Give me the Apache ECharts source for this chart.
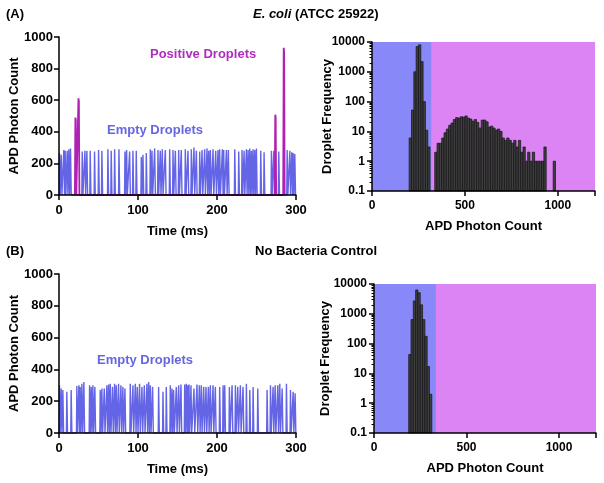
<!DOCTYPE html>
<html><head><meta charset="utf-8">
<script src="https://cdn.jsdelivr.net/npm/echarts@6/dist/echarts.min.js"></script>
<style>html,body{margin:0;padding:0;background:#fff}#c{width:604px;height:483px}</style>
</head><body><div id="c"></div>
<script>
// ---- Panel A time trace ----
const emptyTimesA = [0.8,3.0,6.3,8.0,10.6,12.7,14.8,29.6,33.0,35.5,39.7,45.2,50.3,54.5,62.1,66.3,70.6,76.1,83.7,85.8,89.6,93.8,98.0,104.4,106.5,110.7,115.8,117.9,121.3,125.5,128.4,131.0,134.8,140.3,144.5,147.5,151.7,155.0,160.1,163.5,167.7,171.1,174.1,178.3,181.3,184.6,187.6,189.7,191.8,195.2,198.6,201.5,203.6,207.0,208.7,212.1,214.6,222.7,227.7,231.9,234.5,237.4,239.6,241.7,243.8,245.9,248.0,250.1,255.6,259.8,269.1,272.1,278.4,289.0,292.4,294.9,296.6,298.7];
const emptyHeightsA = [265,255,285,280,280,290,295,275,280,280,280,275,285,280,290,280,290,290,275,285,275,280,280,240,255,265,290,280,295,285,280,290,285,290,285,280,285,285,290,280,290,300,280,275,285,290,295,280,285,290,280,285,290,290,285,285,285,290,275,285,280,290,285,295,280,290,285,295,280,270,280,280,275,285,280,270,265,260];
const posTimesA = [21.0,24.9,274.0,284.7];
const posHeightsA = [490,612,508,932];
// ---- Panel A histogram ----
const binStartA = [200,212.5,225,237.5,250,262.5,275,287.5,300,337.5,350,362.5,375,387.5,400,412.5,425,437.5,450,462.5,475,487.5,500,512.5,525,537.5,550,562.5,575,587.5,600,612.5,625,637.5,650,662.5,675,687.5,700,712.5,725,737.5,750,762.5,775,787.5,800,812.5,825,837.5,850,862.5,875,887.5,900,912.5,925,975];
const countA = [6,52,1000,7000,8000,2200,100,11,3,2,4,4,6,9,12,16,19,25,29,28,31,30,33,28,26,22,25,20,13,24,24,21,14,15,13,11,12,10,6,5,6,5,4,5,3,5,2,3,1,2,1,2,1,1,1,1,3,1];
// ---- Panel B time trace ----
const emptyTimesB = [0.8,3.0,5.1,10.1,15.6,22.8,25.4,27.0,29.2,31.7,38.9,41.0,43.1,45.6,52.4,54.5,57.5,60.8,63.0,65.1,68.0,70.6,72.7,75.6,78.6,81.1,83.7,90.4,93.8,96.8,99.3,102.2,105.2,108.2,111.5,113.7,115.8,118.7,126.3,131.8,136.0,141.1,143.2,145.3,148.7,151.7,154.6,159.3,161.4,163.1,164.8,167.3,171.1,174.9,177.9,180.4,183.4,186.3,189.3,191.8,195.2,198.1,203.6,207.9,210.0,215.9,219.3,223.5,226.5,229.8,233.2,237.4,241.7,245.9,251.8,263.6,267.9,271.2,273.8,277.2,279.7,282.7,288.1,293.2,296.6,299.1];
const emptyHeightsB = [300,280,270,260,270,295,300,290,310,320,300,290,300,290,270,280,280,300,305,310,290,310,300,310,300,290,280,310,300,310,290,310,290,300,310,320,300,290,290,260,290,300,280,270,290,300,305,305,310,300,305,300,280,305,300,300,290,290,290,300,300,290,290,300,300,290,300,300,290,300,290,310,270,290,280,270,300,290,300,300,310,280,310,270,260,250];
// ---- Panel B histogram ----
const binStartB = [187.5,200,212.5,225,237.5,250,262.5,275,287.5,300];
const countB = [43,640,2700,6300,5100,2000,640,175,17,2];
// gate thresholds
const gateA = 322, gateB = 335;

const FONT = '"Liberation Sans", Arial, sans-serif';
const BIN = 12.5;
const BLUE_LINE = '#6464e6', MAG_LINE = '#b020b4';
const BLUE_BG = '#8888f8', PINK_BG = '#dc84f4';

function spikes(ts, hs, half) {
  const out = [];
  for (let i = 0; i < ts.length; i++) {
    const t = ts[i], h = hs[i];
    out.push([t - half, 0], [t - half * 0.3, h], [t + half * 0.3, h * 0.97], [t + half, 0]);
  }
  return out;
}
function pairs(xs, ys) { return xs.map((x, i) => [x, ys[i]]).filter(d => d[1] > 0); }

const axisLine = { lineStyle: { color: '#000', width: 1.5 } };
const axisTick = { show: true, inside: false, length: 5, lineStyle: { color: '#000', width: 1.5 } };
const nameStyle = { fontFamily: FONT, fontWeight: 'bold', fontSize: 13, color: '#000' };

function timeX(grid) {
  return { type: 'value', gridIndex: grid, min: 0, max: 300, interval: 100, z: 10,
    name: 'Time (ms)', nameLocation: 'middle', nameGap: 30, nameMoveOverlap: false, nameTextStyle: nameStyle,
    axisLine, axisTick, splitLine: { show: false },
    axisLabel: { margin: 9, fontFamily: FONT, fontWeight: 'bold', fontSize: 13, color: '#000', formatter: v => String(v) } };
}
function countY(grid) {
  return { type: 'value', gridIndex: grid, min: 0, max: 1000, interval: 200, z: 10,
    name: 'APD Photon Count', nameLocation: 'middle', nameGap: 38, nameMoveOverlap: false, nameTextStyle: nameStyle,
    axisLine: { show: true, lineStyle: { color: '#000', width: 1.5 } }, axisTick, splitLine: { show: false },
    axisLabel: { margin: 6, fontFamily: FONT, fontWeight: 'bold', fontSize: 13, color: '#000', formatter: v => String(v) } };
}
function histX(grid) {
  return { type: 'value', gridIndex: grid, min: 0, max: 1200, interval: 500, z: 10,
    name: 'APD Photon Count', nameLocation: 'middle', nameGap: 29, nameMoveOverlap: false, nameTextStyle: nameStyle,
    axisLine, axisTick, splitLine: { show: false },
    axisLabel: { margin: 9, fontFamily: FONT, fontWeight: 'bold', fontSize: 12, color: '#000',
      formatter: v => (v > 1000 ? '' : String(v)) } };
}
function histY(grid, gap) {
  return { type: 'log', logBase: 10, gridIndex: grid, min: 0.1, max: 10000, z: 10,
    name: 'Droplet Frequency', nameLocation: 'middle', nameGap: gap, nameMoveOverlap: false, nameTextStyle: nameStyle,
    axisLine: { show: true, lineStyle: { color: '#000', width: 1.5 } }, axisTick,
    minorTick: { show: true, splitNumber: 9, length: 2.5, lineStyle: { color: '#000', width: 1 } },
    splitLine: { show: false }, minorSplitLine: { show: false },
    axisLabel: { margin: 7, fontFamily: FONT, fontWeight: 'bold', fontSize: 12, color: '#000',
      formatter: v => String(+v.toPrecision(6)) } };
}
function histRender(params, api) {
  const x0 = api.value(0), y = api.value(1);
  const p1 = api.coord([x0, y]);
  const p2 = api.coord([x0 + BIN, 0.1]);
  return { type: 'rect', shape: { x: p1[0], y: p1[1], width: p2[0] - p1[0], height: p2[1] - p1[1] },
    style: { fill: '#3e3e3e', stroke: '#141414', lineWidth: 0.7 } };
}
function gateSeries(xi, gate) {
  return { type: 'line', xAxisIndex: xi, yAxisIndex: xi, data: [], silent: true, z: 1,
    markArea: { silent: true, z: 1, data: [
      [{ xAxis: 0, itemStyle: { color: BLUE_BG, opacity: 1 } }, { xAxis: gate }],
      [{ xAxis: gate, itemStyle: { color: PINK_BG, opacity: 1 } }, { xAxis: 1200 }]
    ] } };
}

const chart = echarts.init(document.getElementById('c'), null, { renderer: 'canvas' });
chart.setOption({
  animation: false,
  backgroundColor: '#fff',
  grid: [
    { left: 59, top: 37, width: 237, height: 158 },
    { left: 372, top: 42, width: 223, height: 149 },
    { left: 59, top: 274, width: 237, height: 159 },
    { left: 374, top: 284, width: 222, height: 149 }
  ],
  xAxis: [timeX(0), histX(1), timeX(2), histX(3)],
  yAxis: [countY(0), histY(1, 38), countY(2), histY(3, 42)],
  series: [
    { type: 'line', xAxisIndex: 0, yAxisIndex: 0, data: spikes(emptyTimesA, emptyHeightsA, 0.7),
      symbol: 'none', lineStyle: { color: BLUE_LINE, width: 1.4 }, z: 3 },
    { type: 'line', xAxisIndex: 0, yAxisIndex: 0, data: spikes(posTimesA, posHeightsA, 0.9),
      symbol: 'none', lineStyle: { color: MAG_LINE, width: 1.8 }, z: 4 },
    gateSeries(1, gateA),
    { type: 'custom', xAxisIndex: 1, yAxisIndex: 1, data: pairs(binStartA, countA), renderItem: histRender,
      encode: { x: 0, y: 1 }, z: 5 },
    { type: 'line', xAxisIndex: 2, yAxisIndex: 2, data: spikes(emptyTimesB, emptyHeightsB, 0.7),
      symbol: 'none', lineStyle: { color: BLUE_LINE, width: 1.4 }, z: 3 },
    gateSeries(3, gateB),
    { type: 'custom', xAxisIndex: 3, yAxisIndex: 3, data: pairs(binStartB, countB), renderItem: histRender,
      encode: { x: 0, y: 1 }, z: 5 }
  ],
  graphic: [
    { type: 'text', left: 6, top: 8, style: { text: '(A)', font: 'bold 13px ' + FONT, fill: '#000' } },
    { type: 'text', left: 253, top: 8, style: { text: '{i|E. coli} (ATCC 25922)', font: 'bold 13px ' + FONT, fill: '#000',
      rich: { i: { fontStyle: 'italic', fontWeight: 'bold', fontSize: 13, fontFamily: FONT, fill: '#000' } } } },
    { type: 'text', left: 6, top: 245, style: { text: '(B)', font: 'bold 13px ' + FONT, fill: '#000' } },
    { type: 'text', left: 255, top: 245, style: { text: 'No Bacteria Control', font: 'bold 13px ' + FONT, fill: '#000' } },
    { type: 'text', left: 150, top: 48, style: { text: 'Positive Droplets', font: 'bold 13px ' + FONT, fill: '#b02cc0' } },
    { type: 'text', left: 107, top: 124, style: { text: 'Empty Droplets', font: 'bold 13px ' + FONT, fill: '#6666e2' } },
    { type: 'text', left: 97, top: 354, style: { text: 'Empty Droplets', font: 'bold 13px ' + FONT, fill: '#6666e2' } }
  ]
});
</script></body></html>
